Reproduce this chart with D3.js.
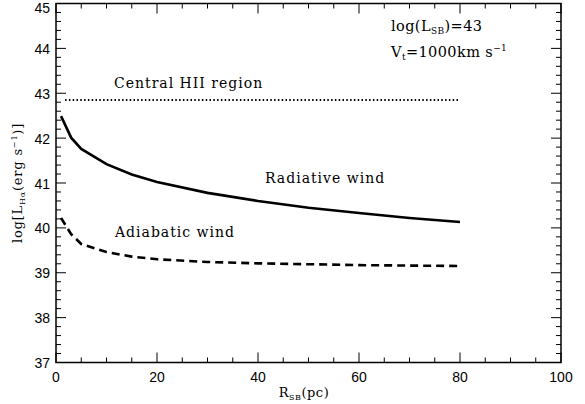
<!DOCTYPE html>
<html><head><meta charset="utf-8">
<script src="https://cdn.jsdelivr.net/npm/d3@7"></script>
<style>body{margin:0;background:#fff}svg{display:block}</style>
</head><body>
<script>
const radii = [1, 3, 5, 10, 15, 20, 30, 40, 50, 60, 70, 80];
const radiative = [42.49, 42.01, 41.76, 41.42, 41.19, 41.02, 40.78, 40.60, 40.45, 40.33, 40.22, 40.13];
const adiabatic = [40.22, 39.86, 39.64, 39.46, 39.36, 39.30, 39.24, 39.21, 39.19, 39.17, 39.16, 39.15];
const centralHII = 42.85;
const centralRange = [1.8, 80];
const xTicks = [0, 20, 40, 60, 80, 100];
const yTicks = [37, 38, 39, 40, 41, 42, 43, 44, 45];

const W = 585, H = 404;
const m = {l: 56, r: 24, t: 3.5, b: 41.5};
const svg = d3.select("body").append("svg").attr("width", W).attr("height", H);
const x = d3.scaleLinear().domain([0, 100]).range([m.l, W - m.r]);
const y = d3.scaleLinear().domain([37, 45]).range([H - m.b, m.t]);

const serif = "DejaVu Serif";
const sans = "Liberation Sans";

// ticks
const xMinor = d3.range(0, 101, 5);
const yMinor = d3.range(37, 45.001, 0.2);
const tg = svg.append("g").attr("stroke", "#000").attr("stroke-width", 1);
xMinor.forEach(v => {
  const major = Math.abs(v % 20) < 1e-6;
  const len = major ? 10 : 5;
  tg.append("line").attr("x1", x(v)).attr("x2", x(v)).attr("y1", y(37)).attr("y2", y(37) - len);
  tg.append("line").attr("x1", x(v)).attr("x2", x(v)).attr("y1", y(45)).attr("y2", y(45) + len);
});
yMinor.forEach(v => {
  const major = Math.abs(v - Math.round(v)) < 1e-6;
  const len = major ? 10 : 5;
  tg.append("line").attr("y1", y(v)).attr("y2", y(v)).attr("x1", x(0)).attr("x2", x(0) + len);
  tg.append("line").attr("y1", y(v)).attr("y2", y(v)).attr("x1", x(100)).attr("x2", x(100) - len);
});

// frame
svg.append("rect").attr("x", x(0)).attr("y", y(45)).attr("width", x(100) - x(0)).attr("height", y(37) - y(45))
  .attr("fill", "none").attr("stroke", "#000").attr("stroke-width", 1.5);

// tick labels
svg.append("g").selectAll("text").data(xTicks).join("text")
  .attr("x", d => x(d)).attr("y", y(37) + 19).attr("text-anchor", "middle")
  .attr("font-family", sans).attr("font-size", 14).text(d => d);
svg.append("g").selectAll("text").data(yTicks).join("text")
  .attr("x", x(0) - 6).attr("y", d => Math.max(y(d) + 5.5, 13)).attr("text-anchor", "end")
  .attr("font-family", sans).attr("font-size", 14).text(d => d);

// lines
const line = d3.line().x(d => x(d[0])).y(d => y(d[1]));
svg.append("path").datum(radii.map((r, i) => [r, radiative[i]])).attr("d", line)
  .attr("fill", "none").attr("stroke", "#000").attr("stroke-width", 2.6);
svg.append("path").datum(radii.map((r, i) => [r, adiabatic[i]])).attr("d", line)
  .attr("fill", "none").attr("stroke", "#000").attr("stroke-width", 2.6).attr("stroke-dasharray", "8,5");
svg.append("line").attr("x1", x(centralRange[0])).attr("x2", x(centralRange[1]))
  .attr("y1", y(centralHII)).attr("y2", y(centralHII))
  .attr("stroke", "#000").attr("stroke-width", 2).attr("stroke-dasharray", "1.5,2.3");

// labels
function lab(t, xx, yy, size) {
  return svg.append("text").attr("x", xx).attr("y", yy).attr("font-family", serif)
    .attr("font-size", size || 14).attr("letter-spacing", 1).text(t);
}
lab("Central HII region", 114, 88, 14);
lab("Radiative wind", 265, 183, 14);
lab("Adiabatic wind", 115, 237, 14);

const t1 = svg.append("text").attr("x", 391).attr("y", 31).attr("font-family", serif).attr("font-size", 14.5).attr("letter-spacing", 0.4);
t1.append("tspan").text("log(L");
t1.append("tspan").attr("font-size", 9).attr("dy", 3).text("SB");
t1.append("tspan").attr("dy", -3).text(")=43");

const t2 = svg.append("text").attr("x", 391).attr("y", 57).attr("font-family", serif).attr("font-size", 14.5).attr("letter-spacing", 0.4);
t2.append("tspan").text("V");
t2.append("tspan").attr("font-size", 9).attr("dy", 3).text("t");
t2.append("tspan").attr("dy", -3).text("=1000km  s");
t2.append("tspan").attr("font-size", 9).attr("dy", -6).text("−1");

const t3 = svg.append("text").attr("x", 304).attr("y", 397).attr("text-anchor", "middle").attr("font-family", serif).attr("font-size", 13).attr("letter-spacing", 0.5);
t3.append("tspan").text("R");
t3.append("tspan").attr("font-size", 8).attr("dy", 3).text("SB");
t3.append("tspan").attr("dy", -3).text("(pc)");

const t4 = svg.append("text").attr("transform", `translate(22,${(y(37) + y(45)) / 2}) rotate(-90)`)
  .attr("text-anchor", "middle").attr("font-family", serif).attr("font-size", 13).attr("letter-spacing", 0.8);
t4.append("tspan").text("log[L");
t4.append("tspan").attr("font-size", 8).attr("dy", 3).text("Hα");
t4.append("tspan").attr("dy", -3).text("(erg  s");
t4.append("tspan").attr("font-size", 8).attr("dy", -5).text("−1");
t4.append("tspan").attr("dy", 5).text(")]");
</script>
</body></html>
